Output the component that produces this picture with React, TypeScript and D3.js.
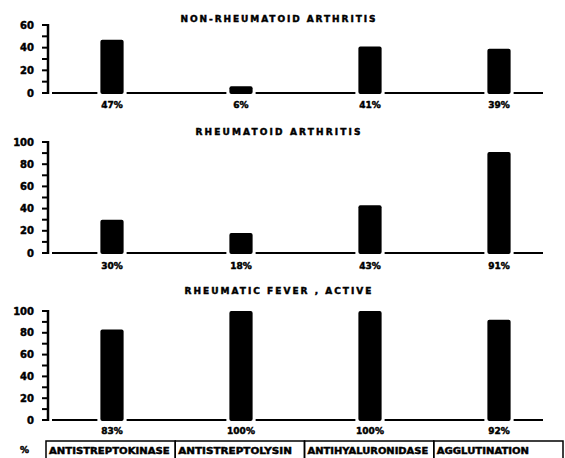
import React from "react";
import * as d3 from "d3";

const categories = ["ANTISTREPTOKINASE", "ANTISTREPTOLYSIN", "ANTIHYALURONIDASE", "AGGLUTINATION"];
const nonRheumatoid = [47, 6, 41, 39];
const rheumatoid = [30, 18, 43, 91];
const rheumaticFever = [83, 100, 100, 92];
const panelTitles = ["NON-RHEUMATOID  ARTHRITIS", "RHEUMATOID  ARTHRITIS", "RHEUMATIC  FEVER , ACTIVE"];
const panelMax = [60, 100, 100];

const W = 565;
const H = 458;
const FONT = "'DejaVu Sans', sans-serif";
const AXIS_X = 48;
const BASE_END = 543;
const TXT = { fontFamily: FONT, fontWeight: "bold" as const, stroke: "#000", strokeWidth: 0.45 };

const x = d3.scaleBand<string>().domain(categories).range([47.5, 563.5]).paddingInner(0.82).paddingOuter(0.41);
const boxX = d3.scaleBand<string>().domain(categories).range([46, 563]);

const panels = [
  { title: panelTitles[0], values: nonRheumatoid, max: panelMax[0], zero: 93, top: 25, titleY: 22, titleLen: 195, labelY: 108 },
  { title: panelTitles[1], values: rheumatoid, max: panelMax[1], zero: 253, top: 142, titleY: 135, titleLen: 165, labelY: 269 },
  { title: panelTitles[2], values: rheumaticFever, max: panelMax[2], zero: 420, top: 311, titleY: 294, titleLen: 187, labelY: 434 },
];

function Panel({ p }: { p: (typeof panels)[number] }) {
  const y = d3.scaleLinear().domain([0, p.max]).range([p.zero, p.top]);
  const minor = d3.range(0, p.max + 1, 10);
  const major = d3.range(0, p.max + 1, 20);
  const bw = x.bandwidth();
  const edges: number[] = [AXIS_X + 4];
  categories.forEach((c) => {
    edges.push(x(c)! - 3);
    edges.push(x(c)! + bw + 3);
  });
  edges.push(BASE_END);
  const segs: [number, number][] = [];
  for (let i = 0; i < edges.length; i += 2) segs.push([edges[i], edges[i + 1]]);
  return (
    <g>
      <text x={278} y={p.titleY} textAnchor="middle" fontSize={9} {...TXT}
        textLength={p.titleLen} lengthAdjust="spacing">{p.title}</text>
      <line x1={AXIS_X} x2={AXIS_X} y1={y(p.max) - 1} y2={y(0) + 1} stroke="#000" strokeWidth={2.5} />
      {minor.map((t) => (
        <line key={t} x1={AXIS_X - 6} x2={AXIS_X} y1={y(t)} y2={y(t)} stroke="#000" strokeWidth={2} />
      ))}
      {major.map((t) => (
        <text key={t} x={34} y={y(t)} dy="0.36em" textAnchor="end" fontSize={10} {...TXT}>{t}</text>
      ))}
      {segs.map(([a, b], i) => (
        <line key={i} x1={a} x2={b} y1={y(0)} y2={y(0)} stroke="#000" strokeWidth={2} />
      ))}
      {categories.map((c, i) => (
        <rect key={c} x={x(c)} y={y(p.values[i])} width={bw} height={y(0) - y(p.values[i]) + 1} rx={2} fill="#000" />
      ))}
      {categories.map((c, i) => (
        <text key={c} x={x(c)! + bw / 2} y={p.labelY} textAnchor="middle" fontSize={9} {...TXT}>
          {p.values[i] + "%"}
        </text>
      ))}
    </g>
  );
}

export default function App() {
  const boxTop = 441;
  return (
    <svg width={W} height={H} style={{ position: "absolute", left: 0, top: 0, background: "#fff" }}>
      <rect width={W} height={H} fill="#fff" />
      {panels.map((p, i) => (
        <Panel key={i} p={p} />
      ))}
      <text x={20} y={453} fontSize={9} {...TXT}>%</text>
      {categories.map((c) => (
        <g key={c}>
          <rect x={boxX(c)} y={boxTop} width={boxX.bandwidth()} height={H + 10 - boxTop} fill="none" stroke="#000" strokeWidth={1.5} />
          <text x={boxX(c)! + 3} y={454} fontSize={9} {...TXT}
            textLength={Math.min(boxX.bandwidth() - 8, c.length * 7.1)} lengthAdjust="spacingAndGlyphs">{c}</text>
        </g>
      ))}
    </svg>
  );
}
